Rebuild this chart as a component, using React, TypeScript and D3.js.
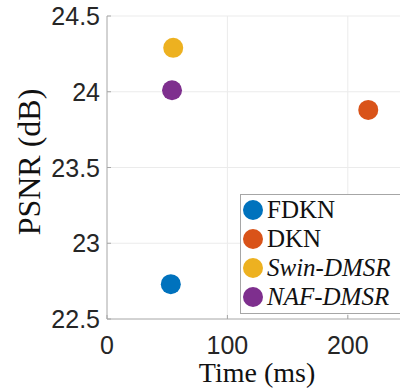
import React, { useEffect, useRef } from "react";
import * as d3 from "d3";

// methods and their measured time / PSNR
const methods = ["FDKN", "DKN", "Swin-DMSR", "NAF-DMSR"];
const timeMs = [53, 217, 55, 54];
const psnrDb = [22.73, 23.88, 24.29, 24.01];
const italicName = [false, false, true, true];
const colors = ["#0072BD", "#D95319", "#EDB120", "#7E2F8E"];
const xTicks = [0, 100, 200];
const yTicks = [22.5, 23, 23.5, 24, 24.5];

const W = 400;
const H = 390;

const App = () => {
  const ref = useRef(null);

  useEffect(() => {
    const svg = d3.select(ref.current);
    svg.selectAll("*").remove();

    const left = 107, top = 16, bottom = 319, right = 408;
    const x = d3.scaleLinear().domain([0, 250]).range([left, right]);
    const y = d3.scaleLinear().domain([22.5, 24.5]).range([bottom, top]);

    svg.append("rect").attr("width", W).attr("height", H).attr("fill", "#fff");

    // grid
    const grid = svg.append("g").attr("stroke", "#ebebeb").attr("stroke-width", 1);
    xTicks.slice(1).forEach((t) => {
      grid.append("line").attr("x1", x(t)).attr("x2", x(t)).attr("y1", top).attr("y2", bottom);
    });
    yTicks.slice(1).forEach((t) => {
      grid.append("line").attr("x1", left).attr("x2", right).attr("y1", y(t)).attr("y2", y(t));
    });

    // axes
    const ax = svg.append("g").attr("stroke", "#a6a6a6").attr("stroke-width", 1);
    ax.append("line").attr("x1", left).attr("x2", left).attr("y1", top).attr("y2", bottom);
    ax.append("line").attr("x1", left).attr("x2", right).attr("y1", bottom).attr("y2", bottom);
    yTicks.forEach((t) => {
      ax.append("line").attr("x1", left).attr("x2", left + 4).attr("y1", y(t)).attr("y2", y(t));
    });
    xTicks.forEach((t) => {
      ax.append("line").attr("x1", x(t)).attr("x2", x(t)).attr("y1", bottom).attr("y2", bottom - 4);
    });

    const tickFont = "Liberation Sans, Arial, sans-serif";
    svg.append("g")
      .selectAll("text")
      .data(yTicks)
      .join("text")
      .attr("x", left - 7)
      .attr("y", (d) => y(d) + 9)
      .attr("text-anchor", "end")
      .attr("font-family", tickFont)
      .attr("font-size", 25)
      .attr("fill", "#262626")
      .text((d) => d3.format("")(d));

    svg.append("g")
      .selectAll("text")
      .data(xTicks)
      .join("text")
      .attr("x", (d) => x(d))
      .attr("y", 354)
      .attr("text-anchor", "middle")
      .attr("font-family", tickFont)
      .attr("font-size", 25)
      .attr("fill", "#262626")
      .text((d) => d);

    const serif = "Liberation Serif, Times New Roman, serif";
    svg.append("text")
      .attr("x", 257)
      .attr("y", 382)
      .attr("text-anchor", "middle")
      .attr("font-family", serif)
      .attr("font-size", 28)
      .attr("fill", "#111")
      .text("Time (ms)");

    svg.append("text")
      .attr("transform", `translate(40,162) rotate(-90)`)
      .attr("text-anchor", "middle")
      .attr("font-family", serif)
      .attr("font-size", 32)
      .attr("fill", "#111")
      .text("PSNR (dB)");

    // points
    svg.append("g")
      .selectAll("circle")
      .data(methods)
      .join("circle")
      .attr("cx", (d, i) => x(timeMs[i]))
      .attr("cy", (d, i) => y(psnrDb[i]))
      .attr("r", 10)
      .attr("fill", (d, i) => colors[i]);

    // legend
    const lg = svg.append("g");
    lg.append("rect")
      .attr("x", 240.5)
      .attr("y", 194.5)
      .attr("width", 170)
      .attr("height", 119)
      .attr("fill", "#fff")
      .attr("stroke", "#a6a6a6");
    const rows = lg.selectAll("g.row").data(methods).join("g")
      .attr("transform", (d, i) => `translate(0,${210 + i * 29})`);
    rows.append("circle").attr("cx", 253).attr("cy", 0).attr("r", 10)
      .attr("fill", (d, i) => colors[i]);
    rows.append("text")
      .attr("x", 267)
      .attr("y", 8)
      .attr("font-family", serif)
      .attr("font-size", 25)
      .attr("font-style", (d, i) => (italicName[i] ? "italic" : "normal"))
      .attr("fill", "#111")
      .text((d) => d);
  });

  return (
    <svg
      ref={ref}
      width={W}
      height={H}
      style={{ position: "fixed", left: 0, top: 0, display: "block" }}
    ></svg>
  );
};

export default App;
